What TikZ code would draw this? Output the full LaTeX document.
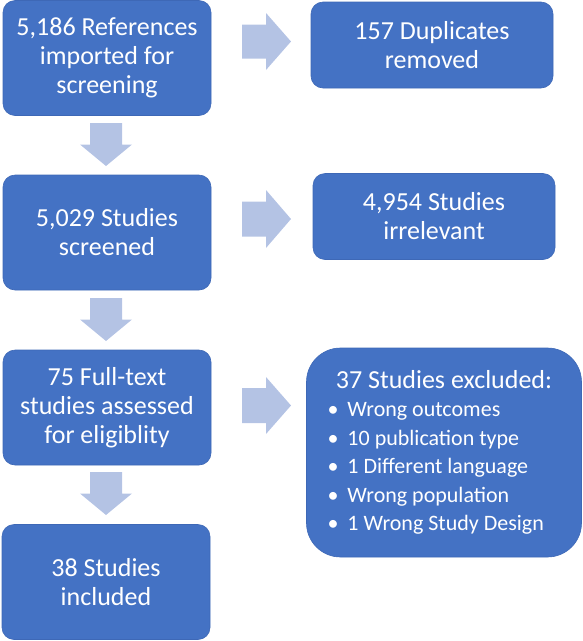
\documentclass[tikz,border=0pt]{standalone}
\usepackage{fontspec}
\setmainfont{Carlito}
\definecolor{boxblue}{RGB}{68,114,196}
\definecolor{boxedge}{RGB}{62,104,182}
\definecolor{arrowc}{RGB}{180,195,228}
\newcommand\bitem[1]{\makebox[20pt][l]{\textbullet}#1\par}
\begin{document}
\begin{tikzpicture}[x=1pt,y=-1pt,
  stepbox/.style={rounded corners=12pt, fill=boxblue, draw=boxedge, line width=0.6pt,
    text=white, align=center, inner sep=0pt, minimum width=208pt, minimum height=115pt,
    font=\fontsize{26}{29}\selectfont},
  sidebox/.style={stepbox, minimum width=242pt, minimum height=86pt},
  bigbox/.style={stepbox, rounded corners=34pt, minimum width=275pt, minimum height=209pt, align=left},
  blockarrow/.style={fill=arrowc, draw=none}]
\useasboundingbox (0,0) rectangle (582,641);

% boxes
\node[stepbox] (refs) at (107,58) {5,186 References\\imported for\\screening};
\node[sidebox] (dups) at (432,45) {157 Duplicates\\removed};
\node[stepbox] (screen) at (107,232.5) {5,029 Studies\\screened};
\node[sidebox] (irrel) at (434,216.5) {4,954 Studies\\irrelevant};
\node[stepbox] (full) at (107,407.5) {75 Full-text\\studies assessed\\for eligiblity};
\node[bigbox] (excl) at (444,452.5) {\parbox{233pt}{%
  \centering\fontsize{26}{29}\selectfont 37 Studies excluded:\par
  \raggedright\fontsize{22}{28.5}\selectfont
  \bitem{Wrong outcomes}
  \bitem{10 publication type}
  \bitem{1 Different language}
  \bitem{Wrong population}
  \bitem{1 Wrong Study Design}}};
\node[stepbox] (incl) at (106,582) {38 Studies\\included};

% right block arrows
\fill[blockarrow] (242,24.5) -- (266,24.5) -- (266,13) -- (291,41.5) -- (266,70) -- (266,58.5) -- (242,58.5) -- cycle;
\fill[blockarrow] (242,201.5) -- (266,201.5) -- (266,190) -- (291,219) -- (266,248) -- (266,236.5) -- (242,236.5) -- cycle;
\fill[blockarrow] (242,388) -- (266,388) -- (266,377) -- (291,405.5) -- (266,434) -- (266,423) -- (242,423) -- cycle;

% down block arrows
\foreach \t in {123,298,472}{
  \fill[blockarrow] (90,\t) -- (122,\t) -- (122,\t+21.5) -- (132,\t+21.5) -- (106,\t+43) -- (80,\t+21.5) -- (90,\t+21.5) -- cycle;
}
\end{tikzpicture}
\end{document}
